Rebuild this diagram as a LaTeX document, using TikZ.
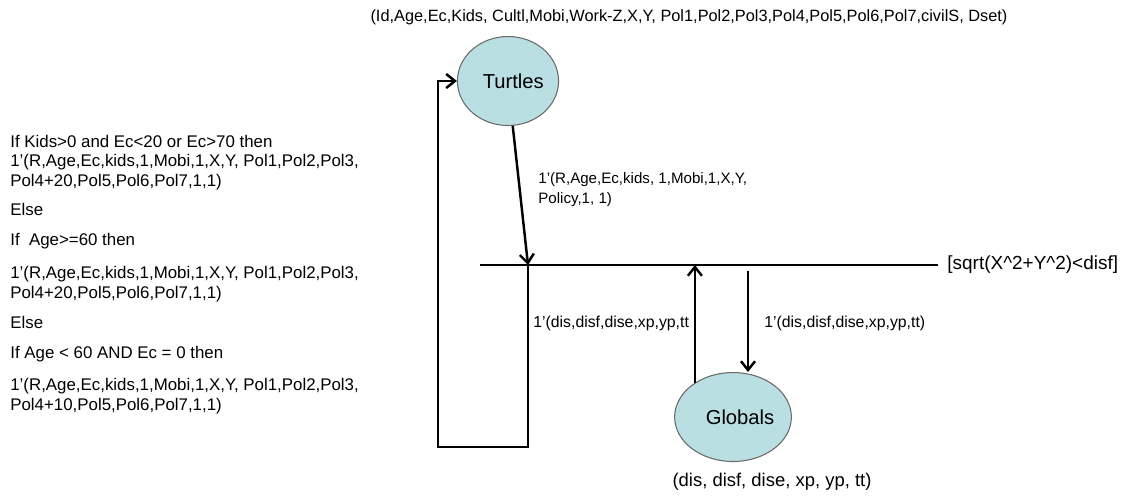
\documentclass[tikz,border=0pt]{standalone}
\usepackage{fontspec}
\setmainfont{Liberation Sans}
\usetikzlibrary{positioning,calc}
\usetikzlibrary{arrows.meta,shapes.geometric}
\definecolor{PlaceFill}{RGB}{185,223,227}
\definecolor{PlaceLine}{RGB}{105,105,105}
\tikzset{
  place/.style={ellipse,draw=PlaceLine,fill=PlaceFill,line width=0.6pt,inner sep=0pt,
    minimum width=1.98cm,minimum height=1.78cm,font=\fontsize{11.5}{13}\selectfont},
  arc/.style={draw=black,line width=1.4pt,-{Straight Barb[length=5pt,width=8pt]}},
  bar/.style={draw=black,line width=1.2pt},
  lab/.style={inner sep=0pt,anchor=west,align=left,font=\fontsize{9.6}{11.4}\selectfont},
}
\tikzset{small/.style={lab,font=\fontsize{9}{11.4}\selectfont}, top/.style={inner sep=0pt,font=\fontsize{9.3}{11}\selectfont}}

\begin{document}
\begin{tikzpicture}[x=0.02cm,y=-0.02cm]
\useasboundingbox (0,0) rectangle (1121,495);
% places
\node[place] (turtles) at (508,81) {\hspace*{6pt}Turtles};
\node[place] (globals) at (733,417) {\hspace*{8pt}Globals};
\node[top] (tcol) at (689,17) {(Id,Age,Ec,Kids, Cultl,Mobi,Work-Z,X,Y, Pol1,Pol2,Pol3,Pol4,Pol5,Pol6,Pol7,civilS, Dset)};
\node[lab,anchor=center,font=\fontsize{10.5}{12}\selectfont] (gcol) at (772,482) {(dis, disf, dise, xp, yp, tt)};
% transition
\coordinate (tl) at (480,265);
\coordinate (tr) at (938,265);
\draw[bar] (tl) -- (tr);
\node[lab,font=\fontsize{10.8}{12}\selectfont] (guard) at (947,265) {[sqrt(X\textasciicircum2+Y\textasciicircum2)<disf]};
% arcs
\coordinate (tin) at (528,265);
\coordinate (lp1) at (528,447);
\coordinate (lp2) at (438,447);
\coordinate (gout) at (748,271);
\draw[arc] (turtles.-84) -- (tin);
\draw[arc] (tin) -- (lp1) -- (lp2) |- (turtles.west);
\draw[arc] (globals.138) -- (globals.138 |- tr);
\draw[arc] (gout) -- (gout |- globals.north);
% arc labels
\node[small,font=\fontsize{8.6}{11.4}\selectfont] (ain) at (538,190) {1’(R,Age,Ec,kids, 1,Mobi,1,X,Y,\\Policy,1, 1)};
\node[small] (aback) at (533,323) {1’(dis,disf,dise,xp,yp,tt};
\node[small] (aout) at (764,323) {1’(dis,disf,dise,xp,yp,tt)};
% rule text
\foreach \y/\t [count=\i] in {141/{If Kids>0 and Ec<20 or Ec>70 then},
  162/{1’(R,Age,Ec,kids,1,Mobi,1,X,Y, Pol1,Pol2,Pol3,},
  182/{Pol4+20,Pol5,Pol6,Pol7,1,1)},
  209/{Else},
  241/{If\ \ Age>=60 then},
  274/{1’(R,Age,Ec,kids,1,Mobi,1,X,Y, Pol1,Pol2,Pol3,},
  294/{Pol4+20,Pol5,Pol6,Pol7,1,1)},
  322/{Else},
  354/{If Age < 60 AND Ec = 0 then},
  386/{1’(R,Age,Ec,kids,1,Mobi,1,X,Y, Pol1,Pol2,Pol3,},
  406/{Pol4+10,Pol5,Pol6,Pol7,1,1)}}
  \node[lab] (rule\i) at (10,\y) {\t};
\end{tikzpicture}
\end{document}
